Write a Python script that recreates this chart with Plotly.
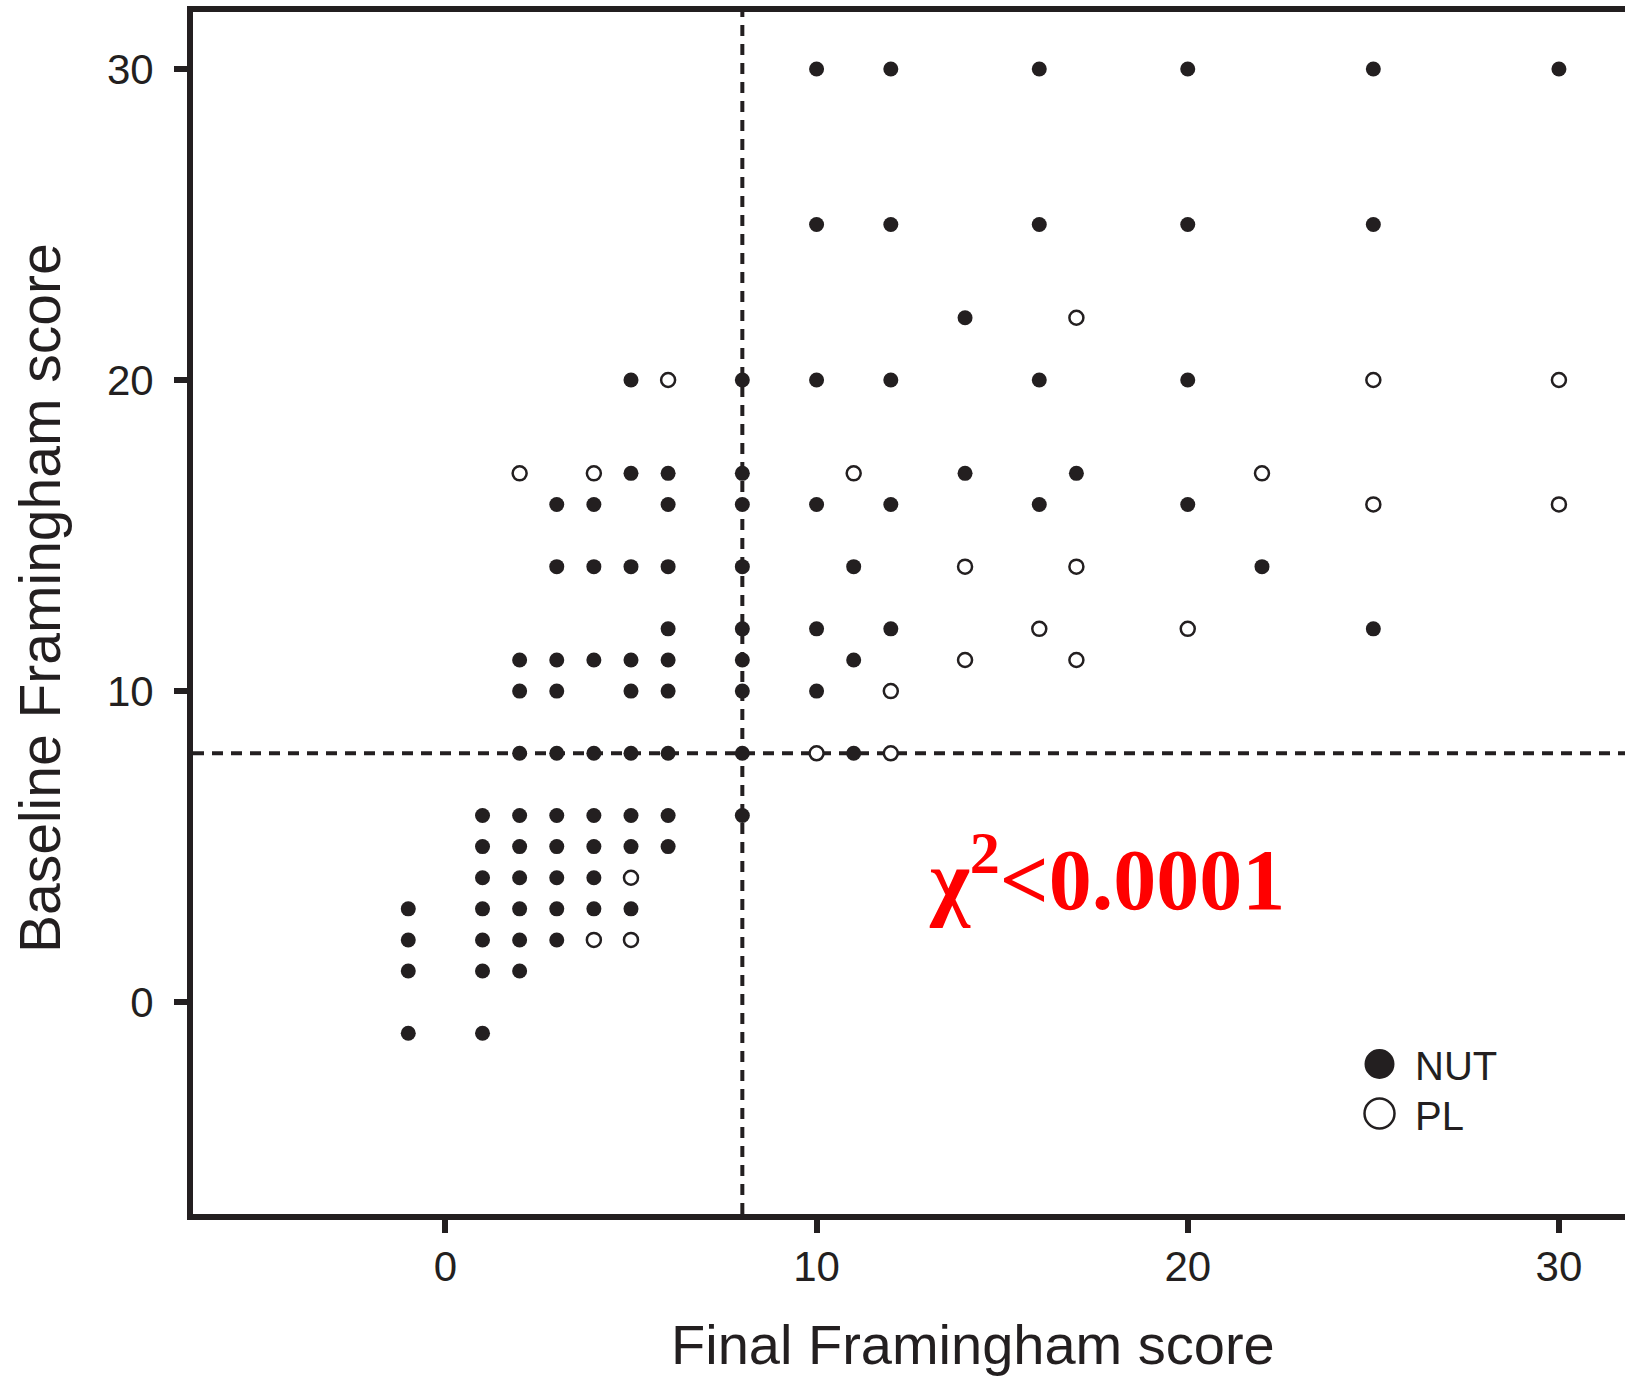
import plotly.graph_objects as go

# ---- data: (final score, baseline score) per subject, by treatment group ----
nut_final = [10, 12, 16, 20, 25, 30,
             10, 12, 16, 20, 25,
             14,
             5, 8, 10, 12, 16, 20,
             5, 6, 8, 14, 17,
             3, 4, 6, 8, 10, 12, 16, 20,
             3, 4, 5, 6, 8, 11, 22,
             6, 8, 10, 12, 25,
             2, 3, 4, 5, 6, 8, 11,
             2, 3, 5, 6, 8, 10,
             2, 3, 4, 5, 6, 8, 11,
             1, 2, 3, 4, 5, 6, 8,
             1, 2, 3, 4, 5, 6,
             1, 2, 3, 4,
             -1, 1, 2, 3, 4, 5,
             -1, 1, 2, 3,
             -1, 1, 2,
             -1, 1]
nut_baseline = [30] * 6 + [25] * 5 + [22] * 1 + [20] * 6 + [17] * 5 + [16] * 8 \
    + [14] * 7 + [12] * 5 + [11] * 7 + [10] * 6 + [8] * 7 + [6] * 7 + [5] * 6 \
    + [4] * 4 + [3] * 6 + [2] * 4 + [1] * 3 + [-1] * 2

pl_final = [17,
            6, 25, 30,
            2, 4, 11, 22,
            25, 30,
            14, 17,
            16, 20,
            14, 17,
            12,
            10, 12,
            5,
            4, 5]
pl_baseline = [22] * 1 + [20] * 3 + [17] * 4 + [16] * 2 + [14] * 2 + [12] * 2 \
    + [11] * 2 + [10] * 1 + [8] * 2 + [4] * 1 + [2] * 2

cutoff = 8
x_ticks = [0, 10, 20, 30]
y_ticks = [0, 10, 20, 30]
group_names = ["NUT", "PL"]
x_title = "Final Framingham score"
y_title = "Baseline Framingham score"
stat_label = "χ<sup>2</sup>&lt;0.0001"

INK = "#231f20"
SANS = "Liberation Sans"
W, H = 1625, 1381
ML, MR, MT, MB = 193, 0, 12, 167
PW, PH = W - ML - MR, H - MT - MB


def px_x(p):
    """Pixel column -> paper x."""
    return (p - ML) / PW


def px_y(p):
    """Pixel row -> paper y."""
    return (H - MB - p) / PH


fig = go.Figure()
fig.add_trace(go.Scatter(
    x=nut_final, y=nut_baseline, mode="markers", name=group_names[0],
    marker=dict(symbol="circle", size=15, color=INK, line=dict(width=0)),
    showlegend=False))
fig.add_trace(go.Scatter(
    x=pl_final, y=pl_baseline, mode="markers", name=group_names[1],
    marker=dict(symbol="circle", size=14, color="white",
                line=dict(width=2.5, color=INK)),
    showlegend=False))

# dashed cut-off lines
dash = "11px,8px"
fig.add_shape(type="line", xref="x", yref="paper", x0=cutoff, x1=cutoff, y0=0, y1=1,
              line=dict(color=INK, width=4, dash=dash), layer="below")
fig.add_shape(type="line", xref="paper", yref="y", x0=0, x1=1, y0=cutoff, y1=cutoff,
              line=dict(color=INK, width=4, dash=dash), layer="below")

# legend keys
fig.add_shape(type="circle", xref="paper", yref="paper",
              x0=px_x(1364.5), x1=px_x(1394.5), y0=px_y(1079), y1=px_y(1049),
              fillcolor=INK, line=dict(width=0))
fig.add_shape(type="circle", xref="paper", yref="paper",
              x0=px_x(1364.5), x1=px_x(1394.5), y0=px_y(1128.5), y1=px_y(1098.5),
              fillcolor="white", line=dict(width=2.5, color=INK))
for name, py in zip(group_names, [1066, 1116]):
    fig.add_annotation(text=name, xref="paper", yref="paper", x=px_x(1413), y=px_y(py),
                       xanchor="left", yanchor="middle", showarrow=False,
                       font=dict(family=SANS, size=40, color=INK))

# statistic
fig.add_annotation(text=stat_label, xref="paper", yref="paper",
                   x=px_x(927), y=px_y(873), xanchor="left", yanchor="middle",
                   showarrow=False,
                   font=dict(family="Liberation Serif", size=86, color="#ff0000",
                             weight="bold"))

# axis titles
fig.add_annotation(text=x_title, xref="paper", yref="paper",
                   x=px_x(973.5), y=px_y(1345), xanchor="center", yanchor="middle",
                   showarrow=False, font=dict(family=SANS, size=56, color=INK))
fig.add_annotation(text=y_title, xref="paper", yref="paper", textangle=-90,
                   x=px_x(40), y=px_y(598), xanchor="center", yanchor="middle",
                   showarrow=False, font=dict(family=SANS, size=57, color=INK))

axis_common = dict(showgrid=False, zeroline=False, showline=True, linewidth=6,
                   linecolor=INK, ticks="outside", ticklen=13, tickwidth=6,
                   tickcolor=INK, tickfont=dict(family=SANS, size=42, color=INK))

fig.update_layout(
    width=W, height=H,
    margin=dict(l=ML, r=MR, t=MT, b=MB, pad=0),
    paper_bgcolor="white", plot_bgcolor="white",
    xaxis=dict(range=[-6.80, 31.78], tickvals=x_ticks, mirror=True,
               ticklabelstandoff=-2, **axis_common),
    yaxis=dict(range=[-6.81, 31.83], tickvals=y_ticks, ticklabelstandoff=12,
               **axis_common),
)

fig.write_html("out.html")
